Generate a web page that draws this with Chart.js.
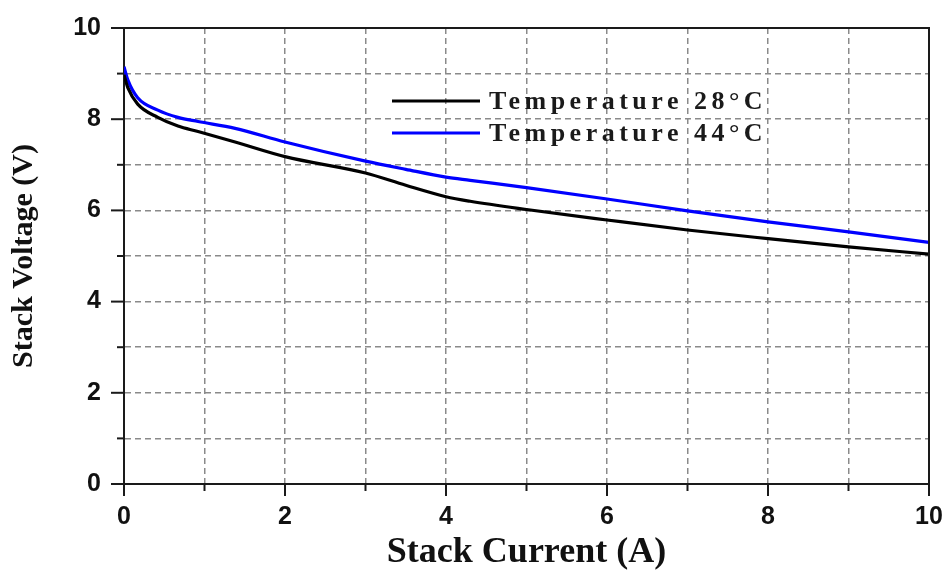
<!DOCTYPE html>
<html>
<head>
<meta charset="utf-8">
<script src="https://cdn.jsdelivr.net/npm/chart.js@4/dist/chart.umd.min.js"></script>
<style>
  html, body { margin: 0; padding: 0; background: #fff; }
  #wrap { width: 951px; height: 574px; position: relative; }
</style>
</head>
<body>
<div id="wrap"><canvas id="c"></canvas></div>
<script>
// ---- data ----
const current   = [0, 0.05, 0.17, 0.42, 0.67, 0.92, 1.38, 2, 3, 3.5, 4, 4.3, 5, 6, 7, 8, 9, 10];
const voltage28 = [8.97, 8.68, 8.33, 8.04, 7.85, 7.73, 7.5, 7.18, 6.82, 6.55, 6.3, 6.2, 6.02, 5.79, 5.57, 5.38, 5.2, 5.04];
const voltage44 = [9.15, 8.85, 8.47, 8.2, 8.04, 7.95, 7.8, 7.5, 7.08, 6.9, 6.73, 6.66, 6.5, 6.25, 5.99, 5.75, 5.53, 5.3];
const seriesLabels = ['Temperature 28°C', 'Temperature 44°C'];
const xTickLabels = ['0', '2', '4', '6', '8', '10'];
const yTickLabels = ['0', '2', '4', '6', '8', '10'];
const xTitle = 'Stack Current (A)';
const yTitle = 'Stack Voltage (V)';

const toPoints = (xs, ys) => xs.map((x, i) => ({ x: x, y: ys[i] }));

const frameAndTicks = {
  id: 'frameAndTicks',
  afterDraw(chart) {
    const ctx = chart.ctx;
    const a = chart.chartArea;
    const xs = chart.scales.x, ys = chart.scales.y;
    ctx.save();
    ctx.strokeStyle = '#1a1a1a';
    ctx.lineWidth = 2;
    ctx.beginPath();
    ctx.moveTo(a.left, a.top); ctx.lineTo(a.right, a.top); ctx.lineTo(a.right, a.bottom);
    ctx.stroke();
    for (let v = 0; v <= 10; v++) {
      const px = xs.getPixelForValue(v);
      const len = (v % 2 === 0) ? 12 : 7;
      ctx.beginPath(); ctx.moveTo(px, a.bottom); ctx.lineTo(px, a.bottom + len); ctx.stroke();
    }
    for (let v = 0; v <= 10; v++) {
      const py = ys.getPixelForValue(v);
      const len = (v % 2 === 0) ? 13 : 7;
      ctx.beginPath(); ctx.moveTo(a.left, py); ctx.lineTo(a.left - len, py); ctx.stroke();
    }
    ctx.restore();
  }
};

const insideLegend = {
  id: 'insideLegend',
  afterDraw(chart) {
    const ctx = chart.ctx;
    const a = chart.chartArea;
    const x0 = a.left + 268, y0 = a.top + 73, gap = 32;
    ctx.save();
    ctx.font = 'bold 26px "Liberation Serif", "Times New Roman", serif';
    ctx.textBaseline = 'middle';
    ctx.fillStyle = '#1a1a1a';
    try { ctx.letterSpacing = '4.5px'; } catch (e) {}
    chart.data.datasets.forEach((ds, i) => {
      const y = y0 + i * gap;
      ctx.strokeStyle = ds.borderColor;
      ctx.lineWidth = 3;
      ctx.beginPath(); ctx.moveTo(x0, y); ctx.lineTo(x0 + 88, y); ctx.stroke();
      ctx.fillText(ds.label, x0 + 97, y + 1);
    });
    ctx.restore();
  }
};

new Chart(document.getElementById('c'), {
  type: 'scatter',
  data: {
    datasets: [
      { label: seriesLabels[0], data: toPoints(current, voltage28), showLine: true,
        borderColor: '#000000', backgroundColor: '#000000', borderWidth: 3.2,
        pointRadius: 0, cubicInterpolationMode: 'monotone' },
      { label: seriesLabels[1], data: toPoints(current, voltage44), showLine: true,
        borderColor: '#0000ff', backgroundColor: '#0000ff', borderWidth: 3.2,
        pointRadius: 0, cubicInterpolationMode: 'monotone' }
    ]
  },
  options: {
    responsive: true,
    maintainAspectRatio: false,
    animation: false,
    layout: { padding: { top: 28, right: 22, left: 0, bottom: 0 } },
    plugins: { legend: { display: false }, tooltip: { enabled: false } },
    scales: {
      x: {
        type: 'linear', min: 0, max: 10,
        afterFit(s) { s.height = 90; s.paddingLeft = 0; s.paddingRight = 0; },
        ticks: {
          stepSize: 1, padding: 18, autoSkip: false, maxRotation: 0,
          color: '#111',
          font: { family: '"Liberation Sans", Arial, sans-serif', size: 25, weight: 'bold' },
          callback: (v) => xTickLabels.includes(String(v)) ? String(v) : ''
        },
        grid: { color: '#8a8a8a', lineWidth: 1.5, drawTicks: false },
        border: { display: true, color: '#1a1a1a', width: 2, dash: [6, 4] },
        title: {
          display: true, text: xTitle, color: '#111',
          font: { family: '"Liberation Serif", "Times New Roman", serif', size: 36, weight: 'bold' },
          padding: { top: 0, bottom: 0 }
        }
      },
      y: {
        type: 'linear', min: 0, max: 10,
        afterFit(s) { s.width = 124; s.paddingTop = 0; s.paddingBottom = 0; },
        ticks: {
          stepSize: 1, padding: 23, autoSkip: false,
          color: '#111',
          font: { family: '"Liberation Sans", Arial, sans-serif', size: 25, weight: 'bold' },
          callback: (v) => yTickLabels.includes(String(v)) ? String(v) : ''
        },
        grid: { color: '#8a8a8a', lineWidth: 1.5, drawTicks: false },
        border: { display: true, color: '#1a1a1a', width: 2, dash: [6, 4] },
        title: {
          display: true, text: yTitle, color: '#111',
          font: { family: '"Liberation Serif", "Times New Roman", serif', size: 30, weight: 'bold' },
          padding: { top: 6, bottom: 0 }
        }
      }
    }
  },
  plugins: [frameAndTicks, insideLegend]
});
</script>
</body>
</html>
